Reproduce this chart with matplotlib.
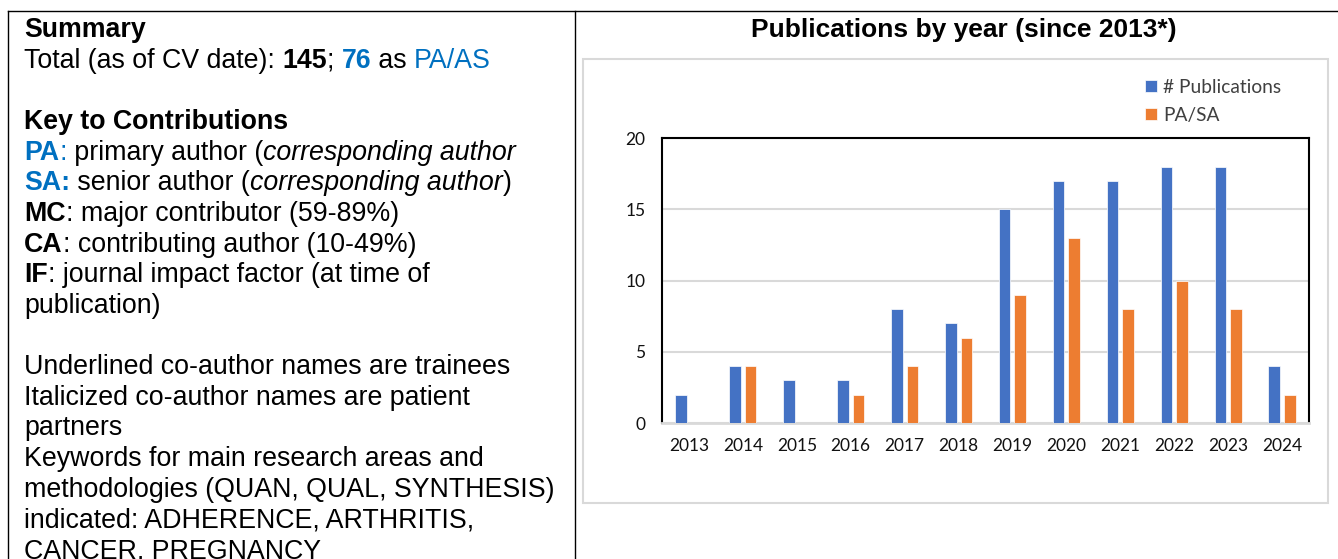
import matplotlib
matplotlib.use("Agg")
import matplotlib.pyplot as plt
import numpy as np
from matplotlib.lines import Line2D
from matplotlib.patches import Rectangle

# ---------------- data ----------------
years = ["2013", "2014", "2015", "2016", "2017", "2018",
         "2019", "2020", "2021", "2022", "2023", "2024"]
publications = [2, 4, 3, 3, 8, 7, 15, 17, 17, 18, 18, 4]
pa_sa = [0, 4, 0, 2, 4, 6, 9, 13, 8, 10, 8, 2]
series_labels = ["# Publications", "PA/SA"]
y_ticks = [0, 5, 10, 15, 20]
chart_title = "Publications by year (since 2013*)"

BLUE_TXT = "#0070C0"
# segments: (text, weight, style, color)
left_lines = [
    [("Summary", "bold", "normal", "k")],
    [("Total (as of CV date): ", "normal", "normal", "k"), ("145", "bold", "normal", "k"),
     ("; ", "normal", "normal", "k"), ("76", "bold", "normal", BLUE_TXT),
     (" as ", "normal", "normal", "k"), ("PA/AS", "normal", "normal", BLUE_TXT)],
    [],
    [("Key to Contributions", "bold", "normal", "k")],
    [("PA", "bold", "normal", BLUE_TXT), (":", "normal", "normal", BLUE_TXT),
     (" primary author (", "normal", "normal", "k"),
     ("corresponding author", "normal", "italic", "k")],
    [("SA:", "bold", "normal", BLUE_TXT), (" senior author (", "normal", "normal", "k"),
     ("corresponding author", "normal", "italic", "k"), (")", "normal", "normal", "k")],
    [("MC", "bold", "normal", "k"), (": major contributor (59-89%)", "normal", "normal", "k")],
    [("CA", "bold", "normal", "k"), (": contributing author (10-49%)", "normal", "normal", "k")],
    [("IF", "bold", "normal", "k"), (": journal impact factor (at time of", "normal", "normal", "k")],
    [("publication)", "normal", "normal", "k")],
    [],
    [("Underlined co-author names are trainees", "normal", "normal", "k")],
    [("Italicized co-author names are patient", "normal", "normal", "k")],
    [("partners", "normal", "normal", "k")],
    [("Keywords for main research areas and", "normal", "normal", "k")],
    [("methodologies (QUAN, QUAL, SYNTHESIS)", "normal", "normal", "k")],
    [("indicated: ADHERENCE, ARTHRITIS,", "normal", "normal", "k")],
    [("CANCER, PREGNANCY", "normal", "normal", "k")],
]

W, H = 1338, 559
DPI = 100
fig = plt.figure(figsize=(W / DPI, H / DPI), dpi=DPI)
fig.patch.set_facecolor("white")


def fx(x):
    return x / W


def fy(y):
    return 1 - y / H


# ---------------- table borders ----------------
for (x0, y0, x1, y1) in [(8, 11, W, 11), (8, 11, 8, H), (575, 11, 575, H)]:
    fig.add_artist(Line2D([fx(x0), fx(x1)], [fy(y0), fy(y1)], transform=fig.transFigure,
                          color="black", lw=1.0))

# ---------------- left text ----------------
TXT_FONT = "Liberation Sans"
TXT_SIZE = 19.3
renderer = fig.canvas.get_renderer()


def seg_width(s, weight, style):
    t1 = fig.text(0, 0, "|" + s + "|", family=TXT_FONT, size=TXT_SIZE, weight=weight, style=style)
    t2 = fig.text(0, 0, "||", family=TXT_FONT, size=TXT_SIZE, weight=weight, style=style)
    w = t1.get_window_extent(renderer).width - t2.get_window_extent(renderer).width
    t1.remove()
    t2.remove()
    return w


x_start = 24
base0 = 37
line_step = 30.65
for i, segs in enumerate(left_lines):
    x = x_start
    yb = base0 + line_step * i
    for (s, weight, style, col) in segs:
        fig.text(fx(x), fy(yb), s, family=TXT_FONT, size=TXT_SIZE, weight=weight,
                 style=style, color=col, va="baseline", ha="left")
        x += seg_width(s, weight, style)

# ---------------- chart title ----------------
fig.text(fx(964), fy(30), chart_title, family=TXT_FONT, size=19, weight="bold",
         ha="center", va="center", color="black")

# chart box
fig.add_artist(Rectangle((fx(583), fy(503)), fx(1328) - fx(583), fy(59) - fy(503),
                         transform=fig.transFigure, fill=False, edgecolor="#d9d9d9", lw=1.5))

# ---------------- chart ----------------
ax = fig.add_axes([fx(662), fy(423), fx(1309) - fx(662), fy(138) - fy(423)])
x = np.arange(len(years))
bw = 0.215
off = 0.145
b1 = ax.bar(x - off, publications, bw, color="#4472C4", edgecolor="white", linewidth=0.5,
            label=series_labels[0], zorder=3)
b2 = ax.bar(x + off, pa_sa, bw, color="#ED7D31", edgecolor="white", linewidth=0.5,
            label=series_labels[1], zorder=3)

ax.set_xlim(-0.5, len(years) - 0.5)
ax.set_ylim(0, 20)
ax.set_yticks(y_ticks)
ax.set_xticks(x)
ax.set_xticklabels(years)
ax.grid(axis="y", color="#d9d9d9", lw=1.5, zorder=0)
ax.set_axisbelow(True)
for side in ["left", "top", "right"]:
    ax.spines[side].set_color("black")
    ax.spines[side].set_linewidth(1.5)
ax.spines["bottom"].set_color("#d9d9d9")
ax.spines["bottom"].set_linewidth(2)
ax.tick_params(axis="both", length=0, labelsize=12.5, colors="#111111")
ax.tick_params(axis="y", pad=12)
ax.tick_params(axis="x", pad=11)
for lab in ax.get_xticklabels() + ax.get_yticklabels():
    lab.set_family("Lato")

leg = ax.legend(handles=[b1, b2], loc="upper left",
                bbox_to_anchor=(fx(1145), fy(79)), bbox_transform=fig.transFigure,
                frameon=False, prop={"family": "Lato", "size": 13.8},
                handlelength=0.6, handleheight=0.6, handletextpad=0.35,
                labelspacing=0.55, borderpad=0, borderaxespad=0)
for t in leg.get_texts():
    t.set_color("#404040")

fig.savefig("out.png", dpi=DPI, facecolor="white")
